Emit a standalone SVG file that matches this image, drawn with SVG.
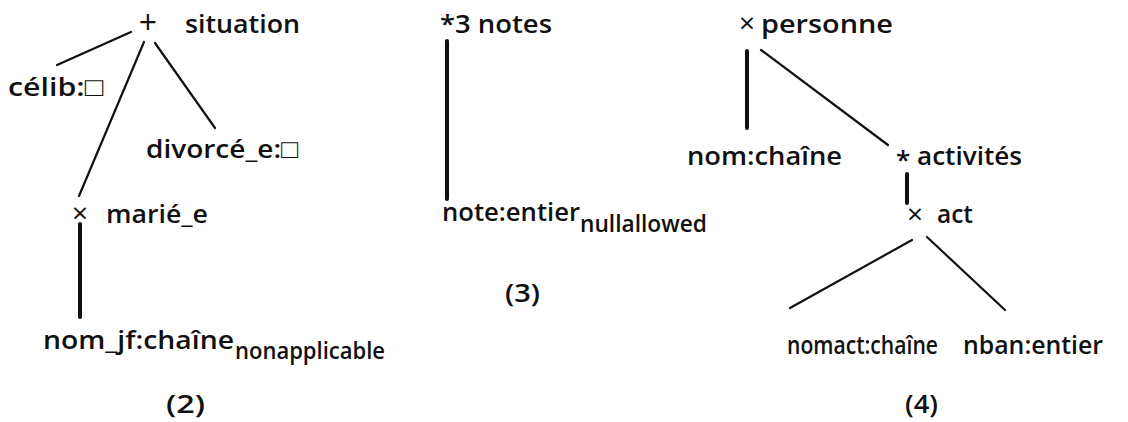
<svg xmlns="http://www.w3.org/2000/svg" width="1128" height="422" viewBox="0 0 1128 422">
<style>
text{font-family:"Open Sans","Liberation Sans",sans-serif;font-weight:600;font-size:26px;fill:#111}
.sub{font-size:24px}
.small{font-size:25px}
.plus{font-weight:400;font-size:32px}
.times{font-weight:400;font-size:28px}
.thin{stroke:#111;stroke-width:2.2;fill:none;stroke-linecap:round}
.thick{stroke:#111;stroke-width:4;fill:none;stroke-linecap:round}
</style>
<rect width="1128" height="422" fill="#fff"/>
<g id="connectors">
<line class="thin" x1="131" y1="32" x2="57" y2="65"/>
<line class="thin" x1="144" y1="42" x2="79" y2="196"/>
<line class="thin" x1="155" y1="43" x2="215" y2="128"/>
<line class="thick" x1="80" y1="224" x2="80" y2="317"/>
<line class="thick" x1="447" y1="41" x2="447" y2="199"/>
<line class="thick" x1="747" y1="51" x2="747" y2="128"/>
<line class="thin" x1="761" y1="50" x2="888" y2="145"/>
<line class="thick" x1="907" y1="174" x2="907" y2="203"/>
<line class="thin" x1="912" y1="240" x2="790" y2="308"/>
<line class="thin" x1="927" y1="237" x2="1005" y2="310"/>
</g>
<g id="situation"><text class="plus" x="148" y="34" text-anchor="middle">+</text><text x="185" y="33" textLength="115" lengthAdjust="spacingAndGlyphs">situation</text></g>
<g id="celib"><text x="8" y="96" textLength="95" lengthAdjust="spacingAndGlyphs">célib:□</text></g>
<g id="divorce"><text x="146" y="158" textLength="152" lengthAdjust="spacingAndGlyphs">divorcé_e:□</text></g>
<g id="marie"><text class="times" x="80" y="223" text-anchor="middle">×</text><text x="106" y="223" textLength="102" lengthAdjust="spacingAndGlyphs">marié_e</text></g>
<g id="nom_jf"><text x="43" y="349" textLength="191" lengthAdjust="spacingAndGlyphs">nom_jf:chaîne</text><text class="sub" x="235" y="359" textLength="150" lengthAdjust="spacingAndGlyphs">nonapplicable</text></g>
<g id="label2"><text x="166" y="413" textLength="39" lengthAdjust="spacingAndGlyphs">(2)</text></g>
<g id="notes"><text x="440" y="33" textLength="112" lengthAdjust="spacingAndGlyphs">*3 notes</text></g>
<g id="note"><text x="442" y="221" textLength="138" lengthAdjust="spacingAndGlyphs">note:entier</text><text class="sub" x="580" y="232" textLength="127" lengthAdjust="spacingAndGlyphs">nullallowed</text></g>
<g id="label3"><text x="505" y="302" textLength="35" lengthAdjust="spacingAndGlyphs">(3)</text></g>
<g id="personne"><text class="times" x="747" y="33" text-anchor="middle">×</text><text x="761" y="33" textLength="132" lengthAdjust="spacingAndGlyphs">personne</text></g>
<g id="nom"><text x="687" y="165" textLength="155" lengthAdjust="spacingAndGlyphs">nom:chaîne</text></g>
<g id="activites"><text x="903" y="169" text-anchor="middle">*</text><text x="917" y="165" textLength="105" lengthAdjust="spacingAndGlyphs">activités</text></g>
<g id="act"><text class="times" x="915" y="224" text-anchor="middle">×</text><text x="937" y="223" textLength="36" lengthAdjust="spacingAndGlyphs">act</text></g>
<g id="nomact"><text class="small" x="787" y="354" textLength="151" lengthAdjust="spacingAndGlyphs">nomact:chaîne</text></g>
<g id="nban"><text x="963" y="354" textLength="140" lengthAdjust="spacingAndGlyphs">nban:entier</text></g>
<g id="label4"><text x="905" y="413" textLength="33" lengthAdjust="spacingAndGlyphs">(4)</text></g>
</svg>
